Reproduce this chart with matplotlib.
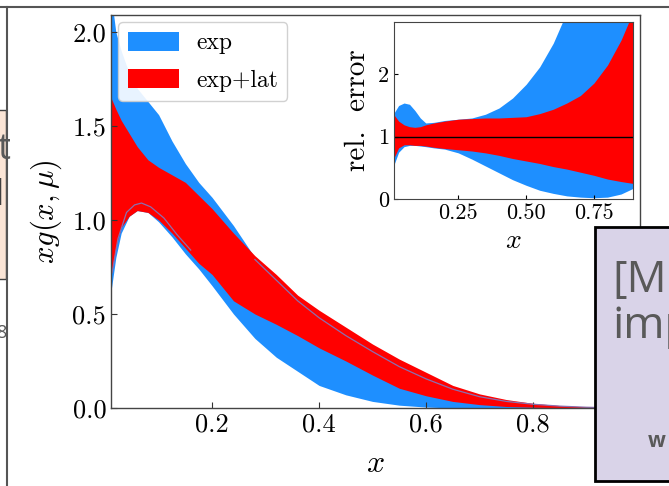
import numpy as np
import matplotlib
matplotlib.use("Agg")
import matplotlib.pyplot as plt
from matplotlib.patches import Rectangle
from matplotlib.lines import Line2D

plt.rcParams['font.family'] = 'serif'
plt.rcParams['font.serif'] = ['cmr10', 'DejaVu Serif']
plt.rcParams['mathtext.fontset'] = 'cm'
plt.rcParams['axes.formatter.use_mathtext'] = True

# main panel: x g(x, mu) bands
x_main = [0.011, 0.02, 0.03, 0.045, 0.06, 0.08, 0.10, 0.125, 0.15, 0.175, 0.20,
          0.24, 0.28, 0.32, 0.36, 0.40, 0.45, 0.50, 0.55, 0.60, 0.65, 0.70,
          0.75, 0.80, 0.85, 0.90, 0.95, 1.0]
exp_lo = [0.62, 0.80, 0.93, 1.02, 1.05, 1.04, 0.99, 0.91, 0.82, 0.74, 0.65,
          0.50, 0.37, 0.27, 0.195, 0.12, 0.07, 0.035, 0.015, 0.005, 0.0, 0.0,
          0.0, 0.0, 0.0, 0.0, 0.0, 0.0]
exp_hi = [2.20, 2.00, 1.90, 1.78, 1.70, 1.63, 1.56, 1.42, 1.30, 1.20, 1.12,
          0.97, 0.80, 0.68, 0.57, 0.48, 0.39, 0.30, 0.22, 0.16, 0.10, 0.06,
          0.035, 0.02, 0.01, 0.005, 0.002, 0.0]
lat_lo = [0.70, 0.86, 0.96, 1.02, 1.05, 1.04, 1.00, 0.93, 0.85, 0.77, 0.71,
          0.57, 0.50, 0.445, 0.385, 0.32, 0.25, 0.175, 0.105, 0.065, 0.035, 0.018,
          0.008, 0.004, 0.002, 0.001, 0.0, 0.0]
lat_hi = [1.65, 1.59, 1.53, 1.46, 1.39, 1.32, 1.28, 1.24, 1.20, 1.13, 1.06,
          0.93, 0.81, 0.71, 0.60, 0.52, 0.43, 0.34, 0.26, 0.19, 0.12, 0.075,
          0.045, 0.025, 0.013, 0.006, 0.002, 0.0]

# thin line, visible at small x and again inside the red band at larger x
x_line_a = [0.013, 0.024, 0.04, 0.055, 0.068, 0.085, 0.11, 0.135, 0.16]
y_line_a = [0.72, 0.90, 1.04, 1.08, 1.09, 1.07, 1.01, 0.92, 0.84]
x_line_b = [0.28, 0.32, 0.36, 0.4, 0.45, 0.5, 0.55, 0.6, 0.65, 0.7, 0.75,
            0.8, 0.85, 0.9, 0.95, 1.0]
y_line_b = [0.79, 0.68, 0.57, 0.48, 0.385, 0.30, 0.22, 0.155, 0.10, 0.06, 0.035,
            0.02, 0.01, 0.004, 0.001, 0.0]

# inset: relative error
x_rel = [0.013, 0.03, 0.05, 0.07, 0.09, 0.11, 0.13, 0.16, 0.20, 0.25, 0.30,
         0.35, 0.40, 0.45, 0.50, 0.55, 0.60, 0.65, 0.70, 0.75, 0.80, 0.85, 0.894]
rel_exp_lo = [0.55, 0.75, 0.84, 0.86, 0.86, 0.85, 0.84, 0.82, 0.80, 0.74, 0.64,
              0.53, 0.42, 0.31, 0.22, 0.14, 0.09, 0.05, 0.03, 0.02, 0.03, 0.08, 0.17]
rel_exp_hi = [1.38, 1.50, 1.54, 1.52, 1.42, 1.30, 1.22, 1.23, 1.26, 1.28, 1.30,
              1.36, 1.46, 1.62, 1.84, 2.12, 2.50, 3.0, 3.6, 4.3, 5.0, 5.8, 6.5]
rel_lat_lo = [0.66, 0.82, 0.87, 0.87, 0.86, 0.86, 0.85, 0.83, 0.81, 0.79, 0.77,
              0.74, 0.70, 0.65, 0.61, 0.57, 0.52, 0.48, 0.43, 0.38, 0.32, 0.28, 0.25]
rel_lat_hi = [1.35, 1.25, 1.19, 1.16, 1.15, 1.16, 1.19, 1.22, 1.25, 1.28, 1.29,
              1.30, 1.30, 1.31, 1.32, 1.37, 1.44, 1.54, 1.66, 1.86, 2.15, 2.55, 3.0]

blue = '#1e8fff'
red = '#ff0000'
line_col = '#8a6fb0'

fig = plt.figure(figsize=(6.69, 4.86), dpi=100)

ax = fig.add_axes([111/669, 78/486, 529/669, 393/486])
ax.fill_between(x_main, exp_lo, exp_hi, color=blue, lw=0, label='exp')
ax.fill_between(x_main, lat_lo, lat_hi, color=red, lw=0, label='exp+lat')
ax.plot(x_line_a, y_line_a, color=line_col, lw=0.9)
ax.plot(x_line_b, y_line_b, color=line_col, lw=0.9)
ax.set_xlim(0.011, 1.0)
ax.set_ylim(0, 2.09)
ax.set_xticks([0.2, 0.4, 0.6, 0.8, 1.0])
ax.set_yticks([0.0, 0.5, 1.0, 1.5, 2.0])
ax.set_xticklabels(['0.2', '0.4', '0.6', '0.8', '1.0'])
ax.set_yticklabels(['0.0', '0.5', '1.0', '1.5', '2.0'])
ax.tick_params(direction='in', labelsize=19, length=4, width=0.8, color='#333333')
ax.set_xlabel(r'$x$', fontsize=23, labelpad=10)
ax.set_ylabel(r'$xg(x,\mu)$', fontsize=22, labelpad=6)
for s in ax.spines.values():
    s.set_color('#444444')
    s.set_linewidth(1.0)
leg = ax.legend(loc='upper left', fontsize=17, handlelength=2.2, handleheight=0.9,
                borderaxespad=0.3, labelspacing=0.6, handletextpad=0.7,
                fancybox=True, framealpha=0.9, edgecolor='#cccccc')

ins = fig.add_axes([394/669, 287/486, 239/669, 177/486])
ins.fill_between(x_rel, rel_exp_lo, rel_exp_hi, color=blue, lw=0)
ins.fill_between(x_rel, rel_lat_lo, rel_lat_hi, color=red, lw=0)
ins.axhline(1.0, color='black', lw=1.0)
ins.set_xlim(0.013, 0.894)
ins.set_ylim(0, 2.84)
ins.set_xticks([0.25, 0.50, 0.75])
ins.set_xticklabels(['0.25', '0.50', '0.75'])
ins.set_yticks([0, 1, 2])
ins.set_yticklabels(['0', '1', '2'])
ins.tick_params(direction='in', labelsize=16, length=3, width=0.8)
ins.set_xlabel(r'$x$', fontsize=20, labelpad=3)
ins.set_ylabel('rel.  error', fontsize=21, labelpad=5)
for s in ins.spines.values():
    s.set_color('#444444')

# slide pieces around the picture
fig.add_artist(Line2D([0, 1], [1 - 7/486, 1 - 7/486], color='#555555', lw=1.5))
fig.add_artist(Line2D([7/669, 7/669], [0, 1 - 7/486], color='#555555', lw=1.5))
fig.add_artist(Rectangle((-0.01, 1 - 279/486), 0.01 + 6/669, 169/486,
                         facecolor='#fbe5d6', edgecolor='#404040', lw=1.0))
fig.text(-0.004, 1 - 150/486, 't', fontsize=26, color='#595959', family='Open Sans',
         va='center', ha='left')
fig.text(-0.012, 1 - 196/486, 'l', fontsize=26, color='#404040', family='Open Sans',
         va='center', ha='left', weight='bold')
fig.text(-0.006, 1 - 333/486, '8', fontsize=13, color='#595959', family='Open Sans',
         va='center', ha='left')
fig.add_artist(Rectangle((595/669, 5/486), 0.2, 254/486,
                         facecolor='#d9d3e8', edgecolor='black', lw=2.0))
fig.text(612/669, 1 - 292/486, '[M', fontsize=32, color='#595959', family='Open Sans',
         va='baseline', ha='left')
fig.text(612/669, 1 - 338/486, 'imp', fontsize=32, color='#595959', family='Open Sans',
         va='baseline', ha='left')
fig.text(648/669, 1 - 447/486, 'w', fontsize=15, color='#595959', family='Open Sans',
         va='baseline', ha='left', weight='bold')

fig.savefig('out.png', dpi=100)
